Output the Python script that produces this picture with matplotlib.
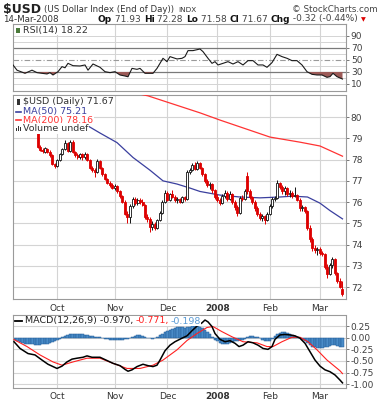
import matplotlib
matplotlib.use('Agg')
import matplotlib.pyplot as plt
from matplotlib.patches import Rectangle
import numpy as np

plt.rcParams['font.family'] = ['DejaVu Sans']

W, H = 382, 400

# ---------------- data ----------------
month_labels = ['Oct', 'Nov', 'Dec', '2008', 'Feb', 'Mar']
month_idx = [17, 40, 61, 81, 102, 122]

candle_start = 9
opens = [79.30, 78.60, 78.45, 78.35, 78.50, 78.35, 78.20, 77.80, 77.70, 78.00,
         78.25, 78.50, 78.80, 78.40, 78.85, 78.35, 78.20, 78.10, 78.25, 78.10,
         78.25, 78.00, 77.60, 77.50, 77.40, 77.95, 77.60, 77.30, 77.10, 76.90,
         76.80, 76.65, 76.75, 76.50, 76.30, 76.00, 75.45, 75.30, 75.80, 76.15,
         75.95, 76.10, 76.00, 75.85, 75.30, 75.20, 74.85, 74.95, 74.80, 75.15,
         75.50, 76.00, 76.45, 76.10, 76.40, 76.25, 76.10, 76.15, 76.00, 76.25,
         76.15, 77.40, 77.50, 77.75, 77.55, 77.85, 77.60, 77.30, 77.00, 76.80,
         76.85, 76.55, 76.25, 76.10, 75.95, 76.30, 76.45, 76.15, 76.40, 76.00,
         75.75, 75.50, 76.20, 76.15, 77.25, 76.50, 76.25, 76.00, 75.70, 75.45,
         75.25, 75.35, 75.15, 75.45, 75.80, 76.15, 76.20, 76.90, 76.70, 76.50,
         76.65, 76.40, 76.45, 76.30, 76.35, 76.10, 75.70, 75.75, 75.60, 74.80,
         74.25, 73.85, 73.75, 73.80, 73.60, 73.55, 72.95, 72.60, 73.05, 73.30,
         72.65, 72.30, 71.93]
highs = [79.35, 78.70, 78.55, 78.60, 78.55, 78.45, 78.25, 77.85, 78.05, 78.30,
         78.55, 78.90, 78.85, 78.90, 78.90, 78.40, 78.30, 78.30, 78.30, 78.35,
         78.30, 78.05, 77.70, 77.60, 78.05, 78.00, 77.65, 77.35, 77.15, 77.00,
         76.90, 76.85, 76.80, 76.55, 76.35, 76.10, 75.60, 75.90, 76.25, 76.25,
         76.20, 76.20, 76.15, 75.90, 75.45, 75.30, 75.10, 75.05, 75.20, 75.60,
         76.10, 76.55, 76.50, 76.45, 76.55, 76.35, 76.25, 76.20, 76.30, 76.30,
         77.50, 77.60, 77.85, 77.90, 77.95, 77.90, 77.65, 77.35, 77.10, 76.95,
         76.90, 76.60, 76.40, 76.20, 76.40, 76.55, 76.50, 76.50, 76.45, 76.10,
         75.85, 76.30, 76.35, 76.60, 77.40, 76.60, 76.30, 76.10, 75.80, 75.55,
         75.45, 75.40, 75.55, 75.90, 76.25, 76.30, 77.05, 76.95, 76.80, 76.75,
         76.70, 76.55, 76.50, 76.70, 76.40, 76.20, 75.85, 75.80, 75.65, 74.90,
         74.35, 74.00, 73.90, 73.90, 73.70, 73.60, 73.10, 73.15, 73.40, 73.35,
         72.70, 72.45, 72.28]
lows = [78.55, 78.40, 78.30, 78.30, 78.30, 78.10, 77.75, 77.60, 77.65, 77.95,
        78.20, 78.45, 78.35, 78.35, 78.30, 78.10, 78.05, 78.05, 78.00, 78.05,
        77.95, 77.55, 77.40, 77.20, 77.35, 77.55, 77.25, 77.05, 76.85, 76.70,
        76.60, 76.55, 76.45, 76.20, 75.95, 75.40, 75.00, 75.00, 75.70, 75.85,
        75.85, 75.90, 75.80, 75.20, 75.05, 74.60, 74.70, 74.70, 74.75, 75.10,
        75.45, 75.95, 76.05, 76.05, 76.20, 76.00, 75.95, 75.95, 75.95, 76.05,
        76.10, 77.30, 77.45, 77.50, 77.50, 77.55, 77.25, 76.90, 76.70, 76.60,
        76.45, 76.15, 76.00, 75.85, 75.90, 76.20, 76.05, 76.10, 75.90, 75.65,
        75.35, 75.45, 76.05, 76.10, 76.40, 76.15, 75.90, 75.60, 75.35, 75.15,
        75.10, 74.95, 75.10, 75.40, 75.70, 76.05, 76.15, 76.60, 76.40, 76.35,
        76.30, 76.25, 76.20, 76.25, 76.05, 75.60, 75.60, 75.50, 74.70, 74.10,
        73.70, 73.60, 73.50, 73.50, 73.45, 72.85, 72.45, 72.55, 72.90, 72.55,
        72.20, 71.95, 71.58]
closes = [78.60, 78.45, 78.40, 78.55, 78.35, 78.20, 77.80, 77.70, 78.00, 78.25,
          78.50, 78.80, 78.40, 78.85, 78.35, 78.20, 78.10, 78.25, 78.10, 78.25,
          78.00, 77.60, 77.50, 77.40, 77.95, 77.60, 77.30, 77.10, 76.90, 76.80,
          76.65, 76.75, 76.50, 76.30, 76.00, 75.45, 75.30, 75.80, 76.15, 75.95,
          76.10, 76.00, 75.85, 75.30, 75.20, 74.85, 74.95, 74.80, 75.15, 75.50,
          76.00, 76.45, 76.10, 76.40, 76.25, 76.10, 76.15, 76.00, 76.25, 76.15,
          77.40, 77.50, 77.75, 77.55, 77.85, 77.60, 77.30, 77.00, 76.80, 76.85,
          76.55, 76.25, 76.10, 75.95, 76.30, 76.45, 76.15, 76.40, 76.00, 75.75,
          75.50, 76.20, 76.15, 76.50, 76.50, 76.25, 76.00, 75.70, 75.45, 75.25,
          75.35, 75.15, 75.45, 75.80, 76.15, 76.20, 76.90, 76.70, 76.50, 76.65,
          76.40, 76.45, 76.30, 76.35, 76.10, 75.70, 75.75, 75.60, 74.80, 74.25,
          73.85, 73.75, 73.80, 73.60, 73.55, 72.95, 72.60, 73.05, 73.30, 72.65,
          72.30, 72.00, 71.67]

ma50_x = [0, 10, 20, 25.2, 34, 40.8, 47.2, 54, 59.2, 64.8, 70, 74, 82, 90, 98, 106, 111, 117, 122, 126, 131]
ma50_v = [80.9, 80.6, 80.2, 79.86, 79.25, 78.8, 78.1, 77.5, 77.0, 76.85, 76.66, 76.5, 76.33, 76.24, 76.2,
          76.24, 76.28, 76.24, 75.95, 75.6, 75.21]
ma200_x = [0, 30, 53.2, 74, 82, 102, 114, 122, 131]
ma200_v = [82.6, 81.6, 81.0, 80.2, 79.86, 79.06, 78.82, 78.64, 78.16]

rsi_x = [-0.8, 0.8, 4, 6.8, 8.8, 10.8, 12.8, 14, 15.2, 17.2, 18.8, 20, 21.2, 23.2, 26, 28, 29.2, 31.2, 34, 36,
         38, 40, 42, 44, 45.2, 46.8, 48.8, 50, 52, 55.2, 56.8, 59.2, 60.8, 62, 64.8, 66.8, 68, 69.2, 71.2, 74,
         75.2, 77.2, 78.8, 80, 81.2, 83.2, 85.2, 87.2, 89.2, 91.2, 93.2, 95.2, 97.2, 99.2, 100.8, 102.8, 104.8,
         106.8, 108.8, 110.8, 112.8, 114.8, 116.8, 118.8, 120.8, 122.8, 124.8, 126, 127.2, 128.8, 131]
rsi_v = [41.7, 33, 27.8, 33, 28.9, 27.8, 26.7, 28.9, 25, 30.5, 38.9, 37, 44.4, 40.5, 40, 41.7, 33, 43.3, 37.8, 30.5,
         28.9, 30.5, 25, 23.3, 22, 36, 34.4, 36, 27.8, 27.8, 36, 52.8, 47.2, 55.6, 51.7, 52.8, 55.6, 65.6, 65.6, 68.3,
         63.9, 52.8, 44.4, 47.2, 41.7, 44.4, 47.2, 43.3, 47.2, 41.7, 48.9, 48.9, 41.7, 41.7, 37.8, 45.6, 59.4,
         55.6, 52.8, 48.9, 48.9, 41.7, 30.5, 26.1, 25, 25, 21.1, 22.2, 27.8, 22.2, 18.22]

macd_x = [-0.4, 2, 5.2, 8, 10.8, 13.2, 15.2, 16.8, 18.8, 20.8, 22.8, 24.8, 27.2, 28.8, 30.8, 34, 36.8, 39.2, 42,
          44, 45.2, 46.8, 48.8, 51.2, 53.2, 55.2, 56.8, 58, 60, 62, 64, 66.8, 68.8, 70.8, 72.8, 74.8, 76, 77.2,
          78.8, 80, 82, 84, 86, 88, 89.6, 91.2, 93.2, 95.2, 97.2, 99.2, 101.2, 102.8, 104, 106, 108, 110, 112,
          114, 116, 118, 120, 122, 124, 126, 128, 130, 131]
macd_v = [-0.086, -0.23, -0.34, -0.37, -0.48, -0.57, -0.62, -0.66, -0.61, -0.52, -0.46, -0.44, -0.42, -0.39,
          -0.42, -0.42, -0.49, -0.55, -0.60, -0.68, -0.72, -0.69, -0.62, -0.57, -0.60, -0.62, -0.59, -0.48,
          -0.28, -0.16, -0.086, -0.01, 0.04, 0.15, 0.25, 0.32, 0.38, 0.34, 0.24, 0.09, -0.035, -0.086, -0.064,
          -0.12, -0.19, -0.16, -0.086, -0.11, -0.16, -0.23, -0.25, -0.19, -0.035, 0.06, 0.07, 0.06, 0.04,
          -0.01, -0.12, -0.30, -0.48, -0.61, -0.69, -0.73, -0.80, -0.91, -0.970]
signal_x = [-0.4, 4.8, 10, 15.2, 18.8, 23.2, 28.8, 34, 39.2, 44.8, 50, 55.2, 59.2, 64.8, 68.8, 72.8, 76.8, 79.2,
            82.8, 86.8, 91.2, 96.8, 100.8, 103.2, 106.8, 110.8, 114, 117.2, 120.8, 124.8, 130, 131]
signal_v = [-0.04, -0.19, -0.37, -0.52, -0.59, -0.52, -0.44, -0.44, -0.55, -0.66, -0.66, -0.59, -0.48, -0.26,
            -0.06, 0.09, 0.22, 0.24, 0.13, 0.02, -0.086, -0.11, -0.19, -0.19, -0.086, 0.01, 0.01, -0.086, -0.26,
            -0.48, -0.71, -0.771]
hist = [-0.05, -0.08, -0.10, -0.12, -0.13, -0.13, -0.14, -0.14, -0.15, -0.15,
        -0.15, -0.14, -0.14, -0.13, -0.12, -0.10, -0.08, -0.05, -0.02, 0.01,
        0.04, 0.06, 0.08, 0.09, 0.09, 0.08, 0.08, 0.07, 0.06, 0.05,
        0.04, 0.03, 0.02, 0.02, 0.01, -0.01, -0.02, -0.03, -0.04, -0.05,
        -0.05, -0.05, -0.04, -0.04, -0.03, -0.02, -0.01, 0.01, 0.03, 0.05,
        0.05, 0.04, 0.02, 0.00, -0.01, -0.02, -0.01, 0.02, 0.06, 0.09,
        0.12, 0.15, 0.17, 0.19, 0.21, 0.22, 0.23, 0.22, 0.21, 0.22,
        0.24, 0.25, 0.26, 0.25, 0.24, 0.20, 0.16, 0.12, 0.07, 0.02,
        -0.04, -0.08, -0.11, -0.13, -0.14, -0.13, -0.11, -0.09, -0.07, -0.06,
        -0.05, -0.04, -0.02, 0.01, 0.03, 0.03, 0.02, 0.01, -0.01, -0.04,
        -0.07, -0.08, -0.06, -0.02, 0.03, 0.07, 0.10, 0.12, 0.12, 0.10,
        0.08, 0.06, 0.04, 0.02, -0.01, -0.04, -0.08, -0.12, -0.16, -0.19,
        -0.21, -0.22, -0.22, -0.22, -0.21, -0.19, -0.17, -0.16, -0.15, -0.17,
        -0.19, -0.198]

# ---------------- figure ----------------
fig = plt.figure(figsize=(W / 100, H / 100), dpi=100)
fig.patch.set_facecolor('white')
renderer = fig.canvas.get_renderer()


def rect(l, t, r, b):
    return [l / W, 1 - b / H, (r - l) / W, (b - t) / H]


def fx(x):
    return x / W


def fy(y):
    return 1 - y / H


GRID = '#d4d4d4'
TXT = '#404040'
XLIM = (-0.8, 132.4)


def style_axis(ax):
    ax.set_xlim(*XLIM)
    ax.set_facecolor('white')
    ax.yaxis.tick_right()
    ax.tick_params(axis='y', labelsize=6.5, colors=TXT, length=2, width=0.5, pad=1.5)
    ax.tick_params(axis='x', length=0)
    for s in ['top', 'bottom', 'left']:
        ax.spines[s].set_color('#9a9a9a')
        ax.spines[s].set_linewidth(0.8)
    ax.spines['right'].set_color('#9a9a9a')
    ax.spines['right'].set_linewidth(0.8)
    ax.spines['right'].set_linestyle((0, (1, 1)))
    for m in month_idx:
        ax.axvline(m, color=GRID, lw=0.8, zorder=0)


# ---------- RSI panel ----------
ax_r = fig.add_axes(rect(13, 23.5, 346, 91))
style_axis(ax_r)
ax_r.set_ylim(-1.7, 110.8)
for g in [10, 20, 40, 60, 80, 90]:
    ax_r.axhline(g, color=GRID, lw=0.7, zorder=0)
ax_r.axhline(70, color='#7a7a7a', lw=0.9, zorder=1)
ax_r.axhline(30, color='#7a7a7a', lw=0.9, zorder=1)
ax_r.axhline(50, color='#9a9a9a', lw=0.8, ls=(0, (5, 2, 1, 2)), zorder=1)
rx = np.array(rsi_x)
rv = np.array(rsi_v)
ax_r.fill_between(rx, rv, 30, where=rv < 30, interpolate=True, color='#9c5b58', lw=0, zorder=2)
ax_r.plot(rx, rv, color='#1a1a1a', lw=0.8, zorder=3)
ax_r.set_yticks([10, 30, 50, 70, 90])
ax_r.set_yticklabels(['10', '30', '50', '70', '90'])
ax_r.set_xticks([])
ax_r.text(fx(23), fy(30), 'RSI(14) 18.22', transform=fig.transFigure, fontsize=6.8, color='#333333',
          va='center', ha='left', zorder=10, bbox=dict(facecolor='white', edgecolor='none', pad=0.3))
ax_r.add_patch(Rectangle((fx(16), fy(32.5)), 4 / W, 5 / H, transform=fig.transFigure,
                         facecolor='#4a7a3a', edgecolor='none', clip_on=False, zorder=11))

# ---------- Price panel ----------
ax_p = fig.add_axes(rect(13, 95, 346, 299))
style_axis(ax_p)
ax_p.set_ylim(71.44, 81.04)
for g in range(72, 81):
    ax_p.axhline(g, color=GRID, lw=0.8, zorder=0)
ax_p.plot(ma200_x, ma200_v, color='#ff3333', lw=0.9, zorder=3)
ax_p.plot(ma50_x, ma50_v, color='#3a3f9e', lw=0.9, zorder=3)

RED = '#dd0000'
for k in range(len(closes)):
    x = candle_start + k
    o, h, l, c = opens[k], highs[k], lows[k], closes[k]
    up = c >= o
    col = '#111111' if up else RED
    ax_p.vlines(x, l, h, color=col, lw=0.7, zorder=4)
    bot = min(o, c)
    hgt = max(abs(c - o), 0.03)
    ax_p.add_patch(Rectangle((x - 0.4, bot), 0.8, hgt,
                             facecolor='white' if up else RED, edgecolor=col, lw=0.6, zorder=5))

ax_p.set_yticks(list(range(72, 81)))
ax_p.set_yticklabels([str(v) for v in range(72, 81)])
ax_p.set_xticks(month_idx)
ax_p.set_xticklabels(month_labels, fontsize=6.5, color='#333333')
ax_p.tick_params(axis='x', pad=3.5)
for lab in ax_p.get_xticklabels():
    if lab.get_text() == '2008':
        lab.set_fontweight('bold')

leg_kw = dict(transform=fig.transFigure, fontsize=6.8, va='center', ha='left', zorder=10,
              bbox=dict(facecolor='white', edgecolor='none', pad=0.6))
ax_p.text(fx(23), fy(102), '$USD (Daily) 71.67', color='#333333', **leg_kw)
ax_p.text(fx(23), fy(111.5), 'MA(50) 75.21', color='#3a3f9e', **leg_kw)
ax_p.text(fx(23), fy(120), 'MA(200) 78.16', color='#ff3333', **leg_kw)
ax_p.text(fx(23), fy(128.5), 'Volume undef', color='#333333', **leg_kw)
ax_p.add_patch(Rectangle((fx(13.5), fy(132)), 9 / W, 36 / H, transform=fig.transFigure,
                         facecolor='white', edgecolor='none', clip_on=False, zorder=9))
ax_p.plot([fx(16), fx(21)], [fy(111.5)] * 2, transform=fig.transFigure, color='#3a3f9e', lw=1.2,
          zorder=11, clip_on=False)
ax_p.plot([fx(16), fx(21)], [fy(120)] * 2, transform=fig.transFigure, color='#ff3333', lw=1.2,
          zorder=11, clip_on=False)
ax_p.add_patch(Rectangle((fx(16.5), fy(105)), 3.5 / W, 5.5 / H, transform=fig.transFigure,
                         facecolor='#333333', edgecolor='none', clip_on=False, zorder=11))
for i, hh in enumerate([3, 5, 4]):
    ax_p.add_patch(Rectangle((fx(16 + i * 1.8), fy(131)), 1.2 / W, hh / H, transform=fig.transFigure,
                             facecolor='#333333', edgecolor='none', clip_on=False, zorder=11))

# ---------- MACD panel ----------
ax_m = fig.add_axes(rect(13, 315, 346, 388))
style_axis(ax_m)
ax_m.set_ylim(-1.08, 0.488)
mt = [0.25, 0.0, -0.25, -0.5, -0.75, -1.0]
for g in mt:
    ax_m.axhline(g, color=GRID, lw=0.8, zorder=0)
hx = np.arange(len(hist))
ax_m.bar(hx, hist, width=0.95, color='#4a8cc8', edgecolor='#1f5a96', lw=0.35, zorder=2)
ax_m.plot(signal_x, signal_v, color='#ff2020', lw=0.8, zorder=3)
ax_m.plot(macd_x, macd_v, color='#000000', lw=1.1, zorder=4)
ax_m.set_yticks(mt)
ax_m.set_yticklabels(['0.25', '0.00', '-0.25', '-0.50', '-0.75', '-1.00'])
ax_m.set_xticks(month_idx)
ax_m.set_xticklabels(month_labels, fontsize=6.5, color='#333333')
ax_m.tick_params(axis='x', pad=3)
for lab in ax_m.get_xticklabels():
    if lab.get_text() == '2008':
        lab.set_fontweight('bold')

ax_m.plot([fx(15), fx(22)], [fy(321)] * 2, transform=fig.transFigure, color='black', lw=1.3,
          zorder=11, clip_on=False)


def seq_text(x, y, parts, fontsize, zorder=10, bg=False):
    for s, color, weight in parts:
        kw = {}
        if bg:
            kw['bbox'] = dict(facecolor='white', edgecolor='none', pad=0.3)
        t = fig.text(fx(x), fy(y), s, fontsize=fontsize, color=color, fontweight=weight,
                     va='center', ha='left', zorder=zorder, **kw)
        bb = t.get_window_extent(renderer=renderer)
        x += bb.width
    return x


seq_text(25, 321, [('MACD(12,26,9) -0.970,', '#222222', 'normal'),
                   ('\u2009', '#222222', 'normal'),
                   ('-0.771,', '#ff2020', 'normal'),
                   ('\u2009', '#222222', 'normal'),
                   ('-0.198', '#5b9bd5', 'normal')], 6.8, bg=True)

# ---------- header ----------
x = seq_text(3, 9, [('$USD', '#222222', 'bold')], 9)
x = seq_text(x + 3, 9.5, [('(US Dollar Index (End of Day))', '#333333', 'normal')], 6.2)
seq_text(x + 4, 9.5, [('INDX', '#333333', 'normal')], 5.2)
fig.text(fx(378), fy(9.5), '\u00a9 StockCharts.com', fontsize=6.3, color='#444444', ha='right', va='center')
fig.text(fx(3), fy(19), '14-Mar-2008', fontsize=6.3, color='#333333', ha='left', va='center')

parts = [('Op', '#111111', 'bold'), (' 71.93 ', '#444444', 'normal'),
         ('Hi', '#111111', 'bold'), (' 72.28 ', '#444444', 'normal'),
         ('Lo', '#111111', 'bold'), (' 71.58 ', '#444444', 'normal'),
         ('Cl', '#111111', 'bold'), (' 71.67 ', '#444444', 'normal'),
         ('Chg', '#111111', 'bold'), (' -0.32 (-0.44%)', '#444444', 'normal')]
x = seq_text(98, 19, parts, 6.5)
fig.text(fx(x + 3), fy(19.5), '\u25bc', fontsize=4.5, color='#dd0000', ha='left', va='center')

fig.savefig('out.png', dpi=100, facecolor='white')
